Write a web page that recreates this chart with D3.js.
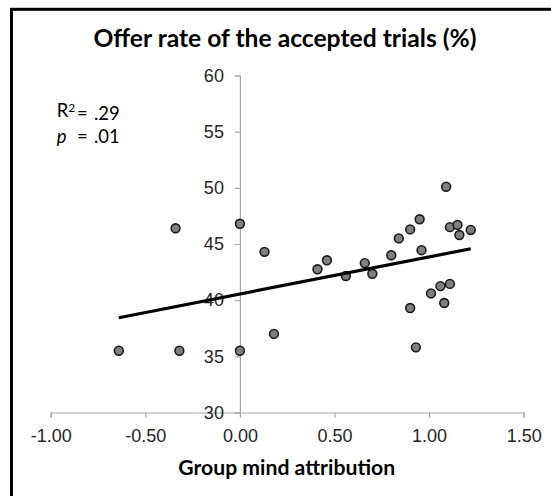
<!DOCTYPE html>
<html>
<head>
<meta charset="utf-8">
<script src="https://cdn.jsdelivr.net/npm/d3@7"></script>
<style>
  body { margin: 0; background: #fff; }
  svg { display: block; }
</style>
</head>
<body>
<div id="chart"></div>
<script>
// values
var attribution = [-0.64, -0.34, -0.32, 0.00, 0.00, 0.13, 0.18, 0.41, 0.46, 0.56,
                   0.66, 0.70, 0.80, 0.84, 0.90, 0.90, 0.93, 0.95, 0.96, 1.01,
                   1.06, 1.08, 1.09, 1.11, 1.11, 1.15, 1.16, 1.22];
var offerRate = [35.5, 46.4, 35.5, 46.8, 35.5, 44.3, 37.0, 42.75, 43.55, 42.15,
                 43.3, 42.35, 44.0, 45.5, 46.3, 39.3, 35.8, 47.2, 44.45, 40.6,
                 41.25, 39.75, 50.1, 46.5, 41.45, 46.7, 45.8, 46.25];
var xTicks = [-1, -0.5, 0, 0.5, 1, 1.5];
var yTicks = [30, 35, 40, 45, 50, 55, 60];
var trend = { intercept: 40.55, slope: 3.3 };
var stats = [
  { name: 'R', sup: '2', value: '.29', italic: false },
  { name: 'p', sup: '', value: '.01', italic: true }
];

var width = 551, height = 496;
var plain = d3.formatLocale({ decimal: '.', thousands: ',', grouping: [3], currency: ['', ''], minus: '-' });

var svg = d3.select('#chart')
  .append('svg')
    .attr('width', width)
    .attr('height', height);

// frame (only left and top edges show)
svg.append('rect')
  .attr('x', 11.5)
  .attr('y', 9.3)
  .attr('width', 600)
  .attr('height', 600)
  .style('fill', 'none')
  .style('stroke', '#000')
  .style('stroke-width', 3);

var x = d3.scaleLinear().domain([-1, 1.5]).range([50.7, 523.7]);
var y = d3.scaleLinear().domain([30, 60]).range([412.5, 75.5]);

var xAxis = svg.append('g')
  .attr('transform', 'translate(0,' + y(30) + ')')
  .call(d3.axisBottom(x)
    .tickValues(xTicks)
    .tickSize(5)
    .tickPadding(12)
    .tickFormat(plain.format('.2f')));

var yAxis = svg.append('g')
  .attr('transform', 'translate(' + x(0) + ',0)')
  .call(d3.axisLeft(y)
    .tickValues(yTicks)
    .tickSize(5)
    .tickPadding(11)
    .tickFormat(plain.format('d')));

[xAxis, yAxis].forEach(function (ax) {
  ax.select('.domain').style('stroke', '#a6a6a6').style('stroke-width', 1.2);
  ax.selectAll('.tick line').style('stroke', '#a6a6a6').style('stroke-width', 1.2);
  ax.selectAll('.tick text')
    .style('font-family', '"Liberation Sans", Arial, sans-serif')
    .style('font-size', '18px')
    .style('fill', '#262626');
});
xAxis.selectAll('.tick text').attr('dy', '0.71em');

// points
var pts = attribution.map(function (a, i) { return { a: a, r: offerRate[i] }; });

svg.selectAll('circle.pt')
  .data(pts)
  .enter().append('circle')
    .classed('pt', true)
    .attr('cx', function (d) { return x(d.a); })
    .attr('cy', function (d) { return y(d.r); })
    .attr('r', 4.4)
    .style('fill', '#7f7f7f')
    .style('stroke', '#1a1a1a')
    .style('stroke-width', 1.6);

// trend line over the data range
var xr = d3.extent(attribution);
svg.append('line')
  .attr('x1', x(xr[0]))
  .attr('y1', y(trend.intercept + trend.slope * xr[0]))
  .attr('x2', x(xr[1]))
  .attr('y2', y(trend.intercept + trend.slope * xr[1]))
  .style('stroke', '#000')
  .style('stroke-width', 3.2);

// bold labels, sized so their width matches the original
function boldLabel(str, cx, baseline, targetWidth) {
  var t = svg.append('text')
    .attr('x', cx)
    .attr('y', baseline)
    .attr('text-anchor', 'middle')
    .style('font-family', 'Lato, sans-serif')
    .style('font-weight', 'bold')
    .style('font-size', '20px')
    .style('fill', '#000')
    .text(str);
  var w = t.node().getComputedTextLength();
  if (w > 0) t.style('font-size', (20 * targetWidth / w).toFixed(2) + 'px');
  return t;
}

boldLabel('Offer rate of the accepted trials (%)', 285, 46.7, 383);
boldLabel('Group mind attribution', 286.7, 475, 217);

// stats annotation
var st = svg.selectAll('text.stat')
  .data(stats)
  .enter().append('text')
    .classed('stat', true)
    .attr('y', function (d, i) { return 117.3 + i * 26; })
    .style('font-family', 'Lato, sans-serif')
    .style('font-size', '18.5px')
    .style('fill', '#000');

st.append('tspan')
  .attr('x', 56.7)
  .style('font-style', function (d) { return d.italic ? 'italic' : 'normal'; })
  .text(function (d) { return d.name; });
st.append('tspan')
  .attr('dy', '-0.42em')
  .style('font-size', '12px')
  .text(function (d) { return d.sup; });
st.append('tspan')
  .attr('x', 77)
  .attr('dy', function (d) { return d.sup ? '0.42em' : 0; })
  .text('=');
st.append('tspan')
  .attr('x', 94)
  .text(function (d) { return d.value; });
</script>
</body>
</html>
